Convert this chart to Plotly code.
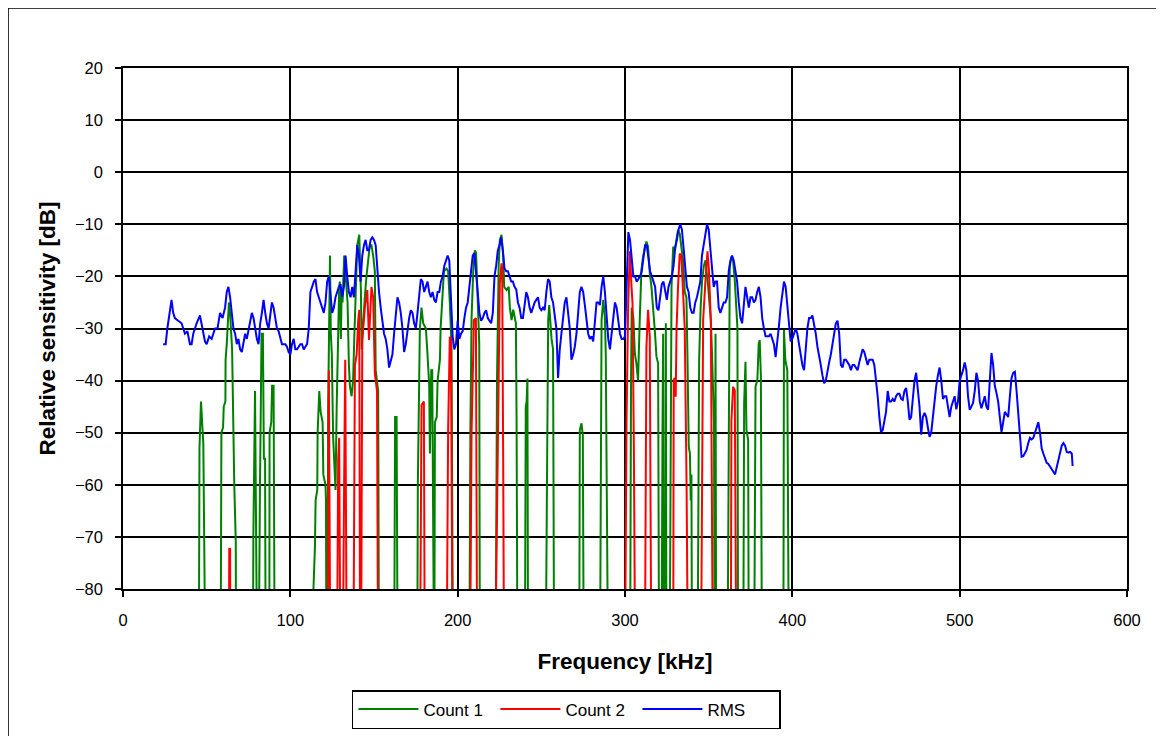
import plotly.graph_objects as go

# ---------------- data (kHz, dB) ----------------
# values below -80 dB are off-scale (clipped by the axis)
rms_points = [
    (24, -33), (25.5, -33), (26.5, -30), (28, -26), (29, -24.5), (30, -27), (31, -28), (33, -28.5),
    (35, -29), (37, -31), (38.5, -30.5), (40, -33), (41, -33), (42, -31), (44, -29), (46, -27.5),
    (47.5, -30), (49, -32.5), (50, -33), (51.5, -31.5), (53, -32), (55, -30), (56.5, -30), (58, -27),
    (59.5, -28), (61, -26), (62, -23), (63, -22), (64, -24), (65, -27), (66, -30), (67, -31),
    (68, -33), (69, -32), (70, -34), (71, -34.5), (72, -33), (73, -31), (74, -32), (76, -29),
    (77, -27), (78, -28), (79, -30), (80, -32), (81, -33), (82, -29), (83, -27), (84, -24.5),
    (85, -27), (86, -29), (87, -30), (88, -27), (89, -25), (90, -26), (91, -28), (92, -30),
    (93, -30.5), (94, -32), (95, -33), (96, -33), (97, -33), (98, -33.5), (99, -34.5), (100, -35),
    (101, -33), (102, -32), (103, -34), (104, -34), (105, -33.5), (106, -33), (107, -33), (108, -34),
    (109, -33.5), (110, -33), (111, -30), (112, -23), (113, -22), (114, -21), (115, -20.5), (116, -23),
    (117, -24), (118, -25), (119, -26), (120, -27), (121, -25), (122, -21), (123, -20), (124, -23),
    (125, -27), (126, -26), (127, -24), (128, -23), (129, -22), (130, -21.5), (131, -24), (132, -22),
    (133, -16), (134, -20), (135, -23), (136, -24), (137, -22), (138, -24), (139, -18), (140, -14),
    (141, -16), (142, -21), (143, -16), (144, -14), (145, -13), (146, -15), (147, -15), (148, -13),
    (149, -12.5), (150, -13), (151, -14), (152, -19), (153, -23), (154, -26), (155, -29), (156, -31),
    (157, -32), (158, -34), (159, -37.5), (160, -36), (161, -35), (162, -31), (163, -28), (164, -24),
    (165, -25), (166, -27), (167, -30), (168, -34.5), (169, -33), (170, -30), (171, -28), (172, -26.5),
    (173, -27), (174, -29), (175, -30), (176, -27), (177, -24), (178, -20.5), (179, -21), (180, -23),
    (181, -22), (182, -21), (183, -23), (184, -24), (185, -23), (186, -24.5), (187, -25), (188, -23),
    (189, -23), (190, -21), (191, -20), (192, -18), (193, -17), (194, -16), (195, -17), (196, -25),
    (197, -31.5), (198, -34), (199, -33), (200, -28.5), (201, -32), (202, -31), (203, -30.5), (204, -28),
    (205, -26), (206, -25), (207, -22), (208, -20), (209, -16), (210, -15.5), (211, -20), (212, -24.5),
    (213, -27), (214, -28.5), (215, -28), (216, -27), (217, -26.5), (218, -28), (219, -28.5), (220, -29),
    (221, -27), (222, -20), (223, -18), (224, -15), (225, -14), (226, -12.5), (227, -15), (228, -18.5),
    (229, -19), (230, -19), (231, -20), (232, -21), (233, -21), (234, -22), (235, -22.5), (236, -25),
    (237, -26), (238, -28), (239, -28), (240, -25), (241, -23), (242, -24), (243, -26), (244, -27),
    (245, -26), (246, -25), (247, -24.5), (248, -24), (249, -26), (250, -26.5), (251, -26), (252, -26.5),
    (253, -23), (254, -20.5), (255, -21), (256, -24), (257, -25), (258, -28), (259, -30), (260, -39.5),
    (261, -34), (262, -31), (263, -28), (264, -25), (265, -24), (266, -27), (267, -30), (268, -36),
    (269, -35), (270, -33.5), (271, -31), (272, -27), (273, -23), (274, -22), (275, -23), (276, -25.5),
    (277, -28), (278, -31), (279, -32), (280, -31.5), (281, -32.5), (282, -28), (283, -25), (284, -25),
    (285, -25.5), (286, -22), (287, -20), (288, -23), (289, -27), (290, -32), (291, -34), (292, -31),
    (293, -28), (294, -25), (295, -26), (296, -29), (297, -31), (298, -32), (299, -32), (300, -31.5),
    (301, -20), (302, -11.5), (303, -13), (304, -16), (305, -20), (306, -20), (307, -21), (308, -20.5),
    (309, -20), (310, -19), (311, -16), (312, -14), (313, -14), (314, -17), (315, -19), (316, -20),
    (317, -21), (318, -22), (319, -26), (320, -26.5), (321, -24), (322, -21.5), (323, -21), (324, -23),
    (325, -24.5), (326, -22), (327, -21), (328, -20), (329, -18), (330, -14.5), (331, -13), (332, -11),
    (333, -10), (334, -11), (335, -14.5), (336, -18), (337, -22), (338, -23), (339, -26), (340, -27),
    (341, -27), (342, -25), (343, -24), (344, -22.5), (345, -21), (346, -16), (347, -14), (348, -12),
    (349, -10), (350, -11), (351, -14.5), (352, -18), (353, -22), (354, -21), (355, -21), (356, -26),
    (357, -27), (358, -26), (359, -25), (360, -25), (361, -24), (362, -19), (363, -17), (364, -16),
    (365, -17), (366, -19), (367, -21), (368, -25), (369, -28), (370, -29), (371, -25), (372, -22),
    (373, -24), (374, -26), (375, -24), (376, -24), (377, -25), (378, -24.5), (379, -23), (380, -22),
    (381, -24), (382, -28), (383, -30), (384, -31.5), (386, -31.5), (387, -31), (388, -32), (389, -33),
    (390, -35.5), (391, -33), (392, -29.5), (393, -26), (394, -23), (395, -21), (396, -22), (397, -26),
    (398, -30), (399, -32.5), (400, -32), (401, -31), (402, -30), (403, -31), (404, -33), (405, -35),
    (406, -37), (407, -38), (408, -34), (409, -30), (410, -28), (411, -28), (412, -27.5), (413, -29),
    (414, -31), (415, -33.5), (416, -35), (417, -37), (418, -39), (419, -40.5), (420, -40), (421, -38),
    (422, -36.5), (423, -35), (424, -33), (425, -31), (426, -29), (427, -28.5), (428, -31), (429, -37),
    (430, -37.5), (431, -36), (432, -36), (433, -36.5), (434, -37), (435, -38), (436, -37), (437, -37),
    (438, -37.5), (439, -38), (440, -36.5), (441, -35), (442, -34), (443, -34.5), (444, -36), (445, -37),
    (446, -36), (447, -36), (448, -36), (449, -37), (450, -39.5), (451, -43), (452, -47), (453, -49.9),
    (454, -49.5), (455, -48), (456, -46), (457, -42), (458, -44), (459, -44), (460, -43.5), (461, -44),
    (462, -43), (463, -42.5), (464, -42.5), (465, -43.5), (466, -43.7), (467, -42), (468, -41.4), (469, -44),
    (470, -47.5), (471, -47), (472, -44), (473, -40), (474, -38.5), (475, -42), (476, -45), (477, -50.4),
    (478, -47), (479, -46.2), (480, -47), (481, -49), (482, -50.8), (483, -50), (484, -47), (485, -43),
    (486, -41), (487, -39), (488, -37.5), (489, -40), (490, -43.5), (491, -43), (492, -43), (493, -45),
    (494, -47), (495, -45), (496, -44), (497, -43), (498, -45.5), (499, -44), (500, -40), (501, -39),
    (502, -38), (503, -36.5), (504, -38), (505, -43), (506, -45.6), (507, -45), (508, -44.3), (509, -42),
    (510, -38.5), (511, -40), (512, -44), (513, -45.3), (514, -44), (515, -43), (516, -45), (517, -45.6),
    (518, -40), (519, -34.7), (520, -37), (521, -41), (522, -42.4), (523, -44), (524, -47), (525, -49.9),
    (526, -48), (527, -46), (528, -46.5), (529, -47), (530, -43), (531, -39.5), (532, -38.5), (533, -38.3),
    (534, -42), (535, -46.5), (536, -50), (537, -54.6), (538, -54.5), (539, -54), (540, -53.3), (541, -52),
    (542, -51), (543, -51.3), (544, -51), (545, -50), (546, -49), (547, -48), (548, -50), (549, -53),
    (550, -54), (551, -55), (552, -55.8), (553, -56), (554, -56.6), (555, -57), (556, -57.5), (557, -58),
    (558, -56.5), (559, -55), (560, -53.5), (561, -52.5), (562, -52), (563, -52.5), (564, -53.7), (565, -53.8),
    (566, -53.7), (567, -54), (567.5, -56.4),
]

count1_points = [
    (45.3, -100), (45.5, -80), (45.7, -53), (46.6, -44), (47.5, -49), (48, -52), (48.8, -80), (49, -100),
    (58.3, -100), (58.6, -80), (58.8, -50), (59.8, -49), (60.2, -45), (61.2, -44), (61.3, -36), (62, -33),
    (63.3, -25), (64, -27), (65.2, -34), (66.5, -60), (67.4, -71), (67.6, -100),
    (77.6, -100), (77.9, -70), (78.9, -42), (79.8, -80), (80, -100),
    (81, -100), (81.8, -62), (82.8, -31), (83.6, -31), (84.2, -55), (84.9, -55), (85.3, -100),
    (87.4, -100), (87.6, -50), (88.6, -48), (89.1, -41), (90, -41), (90.7, -100),
    (113.5, -100), (113.8, -80), (114.7, -72), (115.1, -63), (116.1, -61), (116.3, -50), (117.3, -42),
    (118.1, -46), (119.3, -48), (119.7, -58), (121, -60), (121.3, -63), (121.6, -100),
    (122.2, -100), (122.6, -45), (123, -30), (123.7, -16), (124.2, -31), (124.8, -35), (125.6, -51),
    (126.5, -58), (127, -61), (127.7, -45), (128.5, -30), (129.2, -22), (129.6, -21), (130.2, -32),
    (130.6, -24), (131.2, -25), (132.2, -16), (133.6, -22), (134.2, -25), (135, -37), (135.6, -41),
    (136.6, -43), (137.5, -40), (138.2, -32), (139, -24), (140, -14), (141.2, -12), (142.2, -23),
    (142.6, -34), (143.5, -28), (144.5, -24), (145.5, -20), (146.5, -17), (147.5, -14), (148.5, -14),
    (149.5, -16), (150.5, -19), (151, -38), (152.5, -42), (153, -100),
    (162, -100), (162.6, -47), (163.5, -47), (164.2, -100),
    (175.8, -100), (176.2, -60), (177.4, -30), (178.4, -26), (179.4, -29), (181, -30), (181.8, -34),
    (183, -41), (183.4, -54), (184.2, -38), (184.8, -38), (185.4, -100),
    (186, -100), (186.4, -48), (187.5, -47), (188, -40), (189.4, -36), (189.8, -30), (191, -24),
    (191.8, -19), (193.3, -18.5), (194.3, -19), (195.3, -25), (196.3, -33), (197.3, -100),
    (206.9, -100), (207.6, -50), (208.3, -28), (209.3, -19), (210.3, -15), (211, -15.5), (211.7, -22),
    (212.9, -33), (213.3, -100),
    (222.6, -100), (223.5, -40), (224.5, -18), (225.2, -13), (226.2, -12), (227.2, -16), (227.8, -22),
    (229.2, -22.6), (230.5, -22), (231.2, -26), (232.2, -28.4), (233.2, -26.4), (234.2, -28), (234.8, -29),
    (235.2, -47), (235.8, -100),
    (240.1, -100), (240.7, -45), (241.2, -44), (241.7, -39.6), (242.1, -100),
    (252.5, -100), (253.5, -54), (254.1, -28.4), (254.7, -25.5), (255.2, -28), (256.1, -32), (257, -34),
    (257.7, -100),
    (272.6, -100), (273, -49.5), (274, -48.2), (274.8, -50.5), (275.4, -100),
    (285, -100), (286, -28.4), (287, -24.5), (288, -28), (288.5, -34.8), (290, -100),
    (303, -100), (303.6, -40), (304, -26), (305, -28), (305.9, -34.8), (306.8, -36.7), (307.8, -40),
    (308.8, -28.4), (309.8, -18.8), (310.8, -16.2), (312.8, -13.3), (313.8, -14.3), (314.8, -19.4),
    (315.8, -22), (316.8, -25.8), (317.8, -30.3), (318.8, -35.4), (319.8, -36.7), (320.4, -100),
    (321.8, -100), (322.4, -50), (322.8, -31), (323.2, -100),
    (324, -100), (324.4, -29), (324.8, -100),
    (326.6, -100), (327.3, -40), (327.8, -22), (328.8, -14.3), (329.8, -15), (330.7, -13), (331.7, -11.1),
    (332.7, -11.8), (333.7, -15), (334.7, -17), (335.7, -23), (336.7, -24), (337.3, -34.8), (338.1, -52.7),
    (338.8, -54), (339.3, -63), (339.7, -58), (340.1, -100),
    (343.3, -100), (343.8, -60), (344.3, -36), (345.2, -26), (346.1, -20.7), (347.1, -18), (348.1, -16.9),
    (349.7, -22), (351.3, -28.4), (352, -34.8), (352.6, -42), (353.2, -48.2), (353.6, -100),
    (353.8, -100), (354.1, -31), (354.5, -100),
    (361.2, -100), (361.8, -50), (362.2, -31.6), (362.6, -18.1), (363.6, -16.2), (364.6, -17),
    (365.6, -20.7), (366.6, -25.8), (367.2, -30), (367.6, -100),
    (370.6, -100), (371.2, -44.4), (372, -36.4), (372.6, -49.5), (373.6, -51.4), (374, -100),
    (377.1, -100), (378, -41.2), (379.1, -39.9), (379.9, -32.9), (380.5, -32.2), (381.2, -39), (381.9, -100),
    (394.6, -100), (395, -30.3), (395.8, -36), (396.4, -37), (397, -38), (398, -100),
]

count2_points = [
    (63.2, -100), (63.5, -72.3), (64, -72.3), (64.2, -100),
    (122.4, -100), (123, -38), (124, -100),
    (127.8, -100), (128.6, -55), (129.2, -51), (130, -100),
    (131.2, -100), (132.2, -58), (132.8, -36), (133.8, -100),
    (137.6, -100), (138.6, -37), (139.6, -35), (140.6, -28.4), (141.2, -26.4), (141.7, -100),
    (142.2, -100), (143, -32), (144.6, -25.8), (146, -22.6), (147, -32.2), (147.6, -28), (148.5, -22),
    (149.5, -24), (150.5, -38.6), (151.8, -42), (152.5, -100),
    (177.4, -100), (178.4, -44.7), (179.8, -44), (180.4, -100),
    (193.3, -100), (194.3, -49.5), (195.3, -31.6), (196, -32), (197, -100),
    (207.3, -100), (208.3, -50), (209.7, -28.4), (210.9, -28), (211.7, -100),
    (222.2, -100), (223.2, -73), (224.2, -47.6), (225.2, -21.3), (226.2, -17.5), (226.6, -18.5),
    (227.2, -55.3), (227.8, -100),
    (299.9, -100), (300.9, -48), (301.9, -25.2), (302.9, -15.2), (303.9, -22), (304.5, -25.2),
    (305.3, -53), (306.2, -100),
    (311.8, -100), (312.8, -33.5), (313.8, -26.4), (314.8, -31.6), (315.8, -100),
    (328.8, -100), (329.1, -39.9), (329.7, -39.5), (330.3, -43.1), (330.8, -30), (331.7, -22),
    (332.7, -15.6), (333.7, -16.2), (334.7, -22), (335.7, -30), (336.8, -60), (337.7, -100),
    (345.3, -100), (346.7, -28.4), (348.1, -20.7), (349.3, -15.2), (350.1, -18.5), (351.3, -28.4),
    (352.6, -100),
    (363.2, -100), (363.6, -47.6), (364.6, -41.2), (365.6, -41.8), (366.6, -100),
]

x_ticks = [0, 100, 200, 300, 400, 500, 600]
y_ticks = [20, 10, 0, -10, -20, -30, -40, -50, -60, -70, -80]

FONT = "Liberation Sans, Arial, sans-serif"

fig = go.Figure()
series = [
    ("Count 1", count1_points, "#008000"),
    ("Count 2", count2_points, "#FF0000"),
    ("RMS", rms_points, "#0000FF"),
]
for name, pts, col in series:
    fig.add_trace(go.Scatter(
        x=[p[0] for p in pts], y=[p[1] for p in pts],
        mode="lines", name=name,
        line=dict(color=col, width=2),
    ))

fig.update_xaxes(
    range=[0, 600], tickvals=x_ticks, showgrid=True, gridcolor="black", gridwidth=1.6,
    showline=True, linecolor="black", linewidth=1.6, mirror=True,
    ticks="outside", ticklen=6, tickcolor="black", tickwidth=1.6,
    tickfont=dict(family=FONT, size=16.5, color="black"), ticklabelstandoff=9,
    zeroline=False,
    title=dict(text="<b>Frequency [kHz]</b>", font=dict(family=FONT, size=22.5, color="black"), standoff=26),
)
fig.update_yaxes(
    range=[-80, 20], tickvals=y_ticks, showgrid=True, gridcolor="black", gridwidth=1.6,
    showline=True, linecolor="black", linewidth=1.6, mirror=True,
    ticks="outside", ticklen=6, tickcolor="black", tickwidth=1.6,
    tickfont=dict(family=FONT, size=16.5, color="black"), ticklabelstandoff=9,
    zeroline=False,
    title=dict(text="<b>Relative sensitivity [dB]</b>", font=dict(family=FONT, size=22.5, color="black"), standoff=13),
)

fig.add_shape(type="rect", xref="paper", yref="paper",
              x0=-0.1145, x1=1.0319, y0=-0.32, y1=1.1152,
              line=dict(color="black", width=1.5), fillcolor="rgba(0,0,0,0)", layer="below")

fig.update_layout(
    width=1156, height=728,
    margin=dict(l=115, r=37, t=60, b=147, autoexpand=False),
    paper_bgcolor="white", plot_bgcolor="white",
    font=dict(family=FONT, color="black"),
    showlegend=True,
    legend=dict(
        orientation="h", x=0.228, xanchor="left", y=-0.194, yanchor="top",
        bordercolor="black", borderwidth=1.5, bgcolor="white",
        font=dict(family=FONT, size=17, color="black"),
        itemwidth=60, entrywidth=67, entrywidthmode="pixels",
    ),
)

fig.write_html("out.html")
